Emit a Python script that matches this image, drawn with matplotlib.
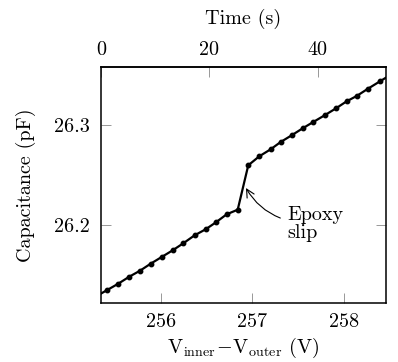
import matplotlib
matplotlib.use("Agg")
import matplotlib.pyplot as plt

plt.rcParams['font.family'] = 'serif'
plt.rcParams['font.serif'] = ['cmr10']
plt.rcParams['mathtext.fontset'] = 'cm'
plt.rcParams['axes.formatter.use_mathtext'] = True

# Data
voltage = [255.300, 255.418, 255.538, 255.658, 255.775, 255.891, 256.011, 256.131,
           256.246, 256.370, 256.490, 256.602, 256.719, 256.839, 256.954, 257.074,
           257.198, 257.307, 257.427, 257.547, 257.662, 257.786, 257.910, 258.026,
           258.135, 258.258, 258.389, 258.510]
capacitance = [26.1286, 26.1348, 26.1411, 26.1481, 26.1541, 26.1611, 26.1678, 26.1745,
               26.1815, 26.1895, 26.1955, 26.2025, 26.2105, 26.2151, 26.2595, 26.2685,
               26.2755, 26.2828, 26.2895, 26.2965, 26.3028, 26.3095, 26.3165, 26.3235,
               26.3288, 26.3361, 26.3435, 26.3503]
x_ticks = [256, 257, 258]
y_ticks = [26.2, 26.3]
y_tick_labels = ['26.2', '26.3']
time_ticks = [0, 20, 40]
V0 = 255.350        # voltage at time zero
S_PER_V = 16.95     # seconds per volt

FS = 14.5

fig = plt.figure(figsize=(3.98, 3.62), dpi=100)
ax = fig.add_axes([101/398, (362-303)/362, (385.7-101)/398, (303-67)/362])

ax.plot(voltage, capacitance, color='black', lw=1.6, marker='o', ms=3.2,
        markerfacecolor='black', markeredgecolor='black', clip_on=True)

ax.set_xlim(255.350, 258.451)
ax.set_ylim(26.1218, 26.3578)
ax.set_xticks(x_ticks)
ax.set_xticklabels([str(t) for t in x_ticks])
ax.set_yticks(y_ticks)
ax.set_yticklabels(y_tick_labels)

for s in ax.spines.values():
    s.set_linewidth(1.1)
    s.set_color('black')

ax.tick_params(axis='both', direction='in', length=7, width=0.6, color='#888888',
               labelsize=FS, pad=7)
ax.tick_params(axis='y', right=True, left=True, pad=8)
ax.tick_params(axis='x', top=False, bottom=True)

ax.set_xlabel(r'$\mathrm{V_{inner}}\!-\!\mathrm{V_{outer}}$ (V)', fontsize=FS, labelpad=4)
ax.set_ylabel('Capacitance (pF)', fontsize=FS, labelpad=13)

def v2t(v):
    return (v - V0) * S_PER_V

def t2v(t):
    return t / S_PER_V + V0

sec = ax.secondary_xaxis('top', functions=(v2t, t2v))
sec.set_xticks(time_ticks)
sec.set_xticklabels([str(t) for t in time_ticks])
sec.tick_params(direction='in', length=7, width=0.6, color='#888888', labelsize=FS, pad=6)
sec.spines['top'].set_linewidth(1.1)
sec.set_xlabel('Time (s)', fontsize=FS, labelpad=12)

ax.annotate('Epoxy\nslip', xy=(256.929, 26.2368), xytext=(257.376, 26.2008),
            fontsize=FS, ha='left', va='center', multialignment='left',
            linespacing=1.0,
            arrowprops=dict(arrowstyle='->', color='black', lw=0.8,
                            shrinkA=3, shrinkB=0,
                            connectionstyle='angle3,angleA=0,angleB=-60'))

fig.savefig('out.png', dpi=100)
